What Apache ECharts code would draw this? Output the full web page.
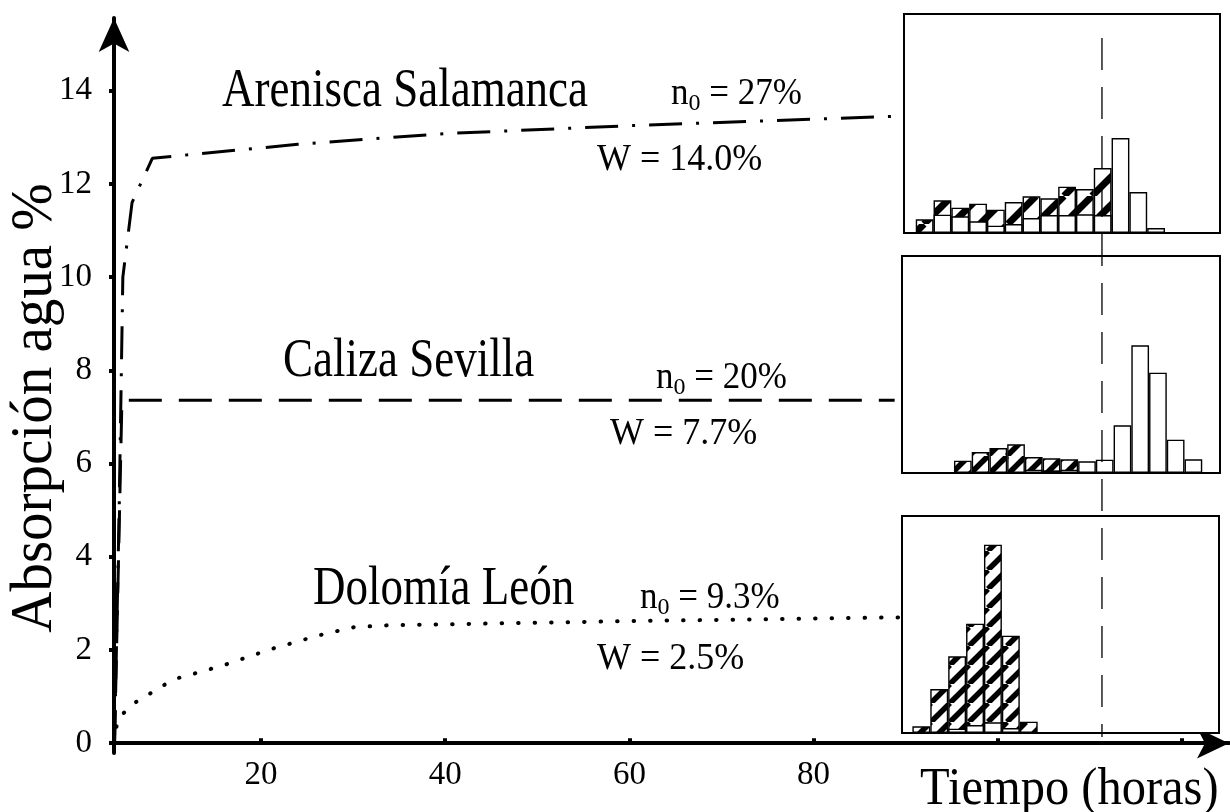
<!DOCTYPE html>
<html><head><meta charset="utf-8">
<script src="https://cdn.jsdelivr.net/npm/echarts@6/dist/echarts.min.js"></script>
<style>html,body{margin:0;padding:0;background:#fff}#c{width:1230px;height:812px}</style>
</head><body><div id="c"></div>
<script>
// ---------- main curves (time in hours, water absorption %) ----------
const arenHours  = [4.1, 4.6, 5.0, 6.0, 8.2, 24, 40, 60, 88.8];
const arenWater  = [0, 5.0, 10.0, 11.6, 12.55, 12.85, 13.08, 13.25, 13.45];
const caliHours  = [4.1, 4.9, 88.8];
const caliWater  = [0, 7.36, 7.36];
const doloHours  = [4.1, 4.4, 5.9, 10.5, 15.9, 21.1, 26.4, 30.1, 33.8, 60, 89.3];
const doloWater  = [0, 0.5, 0.82, 1.37, 1.67, 2.02, 2.32, 2.49, 2.53, 2.62, 2.7];

const xTicks = [20, 40, 60, 80, 100, 120];
const xLabels = [20, 40, 60, 80];
const yTicks = [0, 2, 4, 6, 8, 10, 12, 14];

const rockNames  = ['Arenisca Salamanca', 'Caliza Sevilla', 'Dolomía León'];
const porosity   = ['27%', '20%', '9.3%'];
const absorption = ['14.0%', '7.7%', '2.5%'];

// ---------- inset histograms (pore classes, frequency) ----------
const classes1 = [1,2,3,4,5,6,7,8,9,10,11,12,13,14];
const hatch1   = [4.1, 9.8, 7.6, 8.8, 7.0, 9.3, 11.0, 10.4, 13.9, 13.2, 19.5, null, null, null];
const white1   = [null, 5.5, 5.0, 3.5, 2.2, 2.7, 4.5, 5.4, 5.4, 5.6, 5.4, 28.5, 12.3, 1.5];
const classes2 = [1,2,3,4,5,6,7,8,9,10,11,12,13,14];
const hatch2   = [3.7, 6.3, 7.5, 8.6, 4.8, 4.4, 4.1, null, null, null, null, null, null, null];
const white2   = [null, null, null, null, 1.0, 0.8, 1.0, 3.5, 4.0, 14.3, 38.3, 30.1, 10.0, 4.1];
const classes3 = [1,2,3,4,5,6,7];
const hatch3   = [2.0, 13.2, 23.0, 32.8, 56.5, 29.2, 3.4];
const white3   = [null, null, 1.3, 2.4, 3.2, 1.5, null];
const thresholdClass = 10.96; // in inset-1 class units

const FONT = '"Liberation Serif", "Times New Roman", serif';

function zip(a, b) { return a.map((v, i) => [v, b[i]]); }

function hatchPattern(s, w) {
  const c = document.createElement('canvas');
  c.width = s; c.height = s;
  const ctx = c.getContext('2d');
  ctx.fillStyle = '#fff'; ctx.fillRect(0, 0, s, s);
  ctx.strokeStyle = '#000'; ctx.lineWidth = w;
  for (const o of [-s, 0, s]) {
    ctx.beginPath(); ctx.moveTo(o, s); ctx.lineTo(o + s, 0); ctx.stroke();
  }
  return { image: c, repeat: 'repeat' };
}
const patBig = hatchPattern(28, 7);
const patSmall = hatchPattern(19, 5.5);

const chart = echarts.init(document.getElementById('c'), null, { renderer: 'canvas' });

const insetGrids = [
  { left: 904, top: 14, width: 316, height: 219 },
  { left: 902, top: 256, width: 318, height: 217 },
  { left: 902, top: 516, width: 317, height: 217 }
];
const insetX = [ [-0.16, 17.59], [-2.43, 15.5], [-0.08, 17.63] ];
const insetYMax = [65.7, 65.1, 65.1];

const grids = [{ left: 114, top: 18, right: 1, bottom: 59, containLabel: false, outerBoundsMode: 'none' }]
  .concat(insetGrids.map(g => Object.assign({ show: true, borderColor: '#000', borderWidth: 2, backgroundColor: '#fff', containLabel: false, outerBoundsMode: 'none', z: 3 }, g)));

const xAxes = [{
  type: 'value', gridIndex: 0, min: 4.04, max: 125.1,
  splitLine: { show: false },
  axisLine: { lineStyle: { color: '#000', width: 4 }, symbol: ['none', 'arrow'], symbolSize: [23, 32] },
  axisTick: { show: true, customValues: xTicks, inside: true, length: 5, lineStyle: { color: '#000', width: 4 } },
  axisLabel: { customValues: xLabels, color: '#000', fontFamily: FONT, fontSize: 33, margin: 6 }
}].concat(insetX.map((r, i) => ({ type: 'value', gridIndex: i + 1, min: r[0], max: r[1], show: false })));

const yAxes = [{
  type: 'value', gridIndex: 0, min: -0.21, max: 15.56,
  splitLine: { show: false },
  axisLine: { lineStyle: { color: '#000', width: 4 }, symbol: ['none', 'arrow'], symbolSize: [23, 34] },
  axisTick: { show: true, customValues: yTicks, length: 5, lineStyle: { color: '#000', width: 4 } },
  axisLabel: { customValues: yTicks, color: '#000', fontFamily: FONT, fontSize: 33, margin: 22 }
}].concat(insetYMax.map((m, i) => ({ type: 'value', gridIndex: i + 1, min: 0, max: m, show: false })));

function barSeries(idx, classes, vals, color, w) {
  return {
    type: 'bar', xAxisIndex: idx, yAxisIndex: idx, barWidth: w, barGap: '-100%',
    data: zip(classes, vals), animation: false, z: 4,
    itemStyle: { color: color, borderColor: '#000', borderWidth: 1.4 }
  };
}

const series = [
  { type: 'line', data: zip(arenHours, arenWater), symbol: 'none', animation: false,
    lineStyle: { color: '#000', width: 3, type: [33, 14, 3, 14] } },
  { type: 'line', data: zip(caliHours, caliWater), symbol: 'none', animation: false,
    lineStyle: { color: '#000', width: 3, type: [33, 17] } },
  { type: 'line', data: zip(doloHours, doloWater), symbol: 'none', animation: false,
    lineStyle: { color: '#000', width: 4, type: [0.5, 16], cap: 'round' } },
  barSeries(1, classes1, hatch1, patBig, 17.8),
  barSeries(1, classes1, white1, '#fff', 17.8),
  barSeries(2, classes2, hatch2, patSmall, 17.7),
  barSeries(2, classes2, white2, '#fff', 17.7),
  barSeries(3, classes3, hatch3, patSmall, 17.9),
  barSeries(3, classes3, white3, '#fff', 17.9)
];

// annotation texts
function txt(id, text, x, y, size, align, extra) {
  return Object.assign({ type: 'text', id: id, x: x, y: y, z: 10,
    style: { text: text, font: size + 'px ' + FONT, fill: '#000', align: align || 'left', verticalAlign: 'middle' } }, extra || {});
}
const namePos = [[222, 92], [283, 362], [313, 590]];
const nPos = [[671, 94], [656, 378], [640, 598]];
const wPos = [[597, 160], [610, 434], [597, 659]];
const graphics = [];
rockNames.forEach((nm, i) => {
  graphics.push(txt('name' + i, nm, namePos[i][0], namePos[i][1], 45, 'left', { scaleY: 1.2 }));
  graphics.push(txt('n' + i, 'n', nPos[i][0], nPos[i][1], 35, 'left', { scaleY: 1.08 }));
  graphics.push(txt('s' + i, '0', nPos[i][0] + 17.5, nPos[i][1] + 10, 24));
  graphics.push(txt('p' + i, ' = ' + porosity[i], nPos[i][0] + 29.5, nPos[i][1], 35, 'left', { scaleY: 1.08 }));
  graphics.push(txt('w' + i, 'W = ' + absorption[i], wPos[i][0], wPos[i][1], 36, 'left', { scaleY: 1.08 }));
});
graphics.push(txt('xt', 'Tiempo (horas)', 920, 790, 48.5, 'left', { scaleY: 1.08 }));
graphics.push(txt('yt', 'Absorpción agua %', 35, 408, 57, 'center', { rotation: Math.PI / 2, scaleY: 1.05 }));

chart.setOption({
  animation: false,
  backgroundColor: '#fff',
  grid: grids, xAxis: xAxes, yAxis: yAxes, series: series, graphic: graphics
});

// dashed reference line across the three insets, placed through inset-1 class scale
const px = chart.convertToPixel({ xAxisIndex: 1 }, thresholdClass);
chart.setOption({ graphic: [{
  type: 'line', id: 'thr', z: 20,
  shape: { x1: px, y1: 38, x2: px, y2: 737 },
  style: { stroke: '#000', lineWidth: 1.3, lineDash: [32, 17] }
}] });
</script></body></html>
